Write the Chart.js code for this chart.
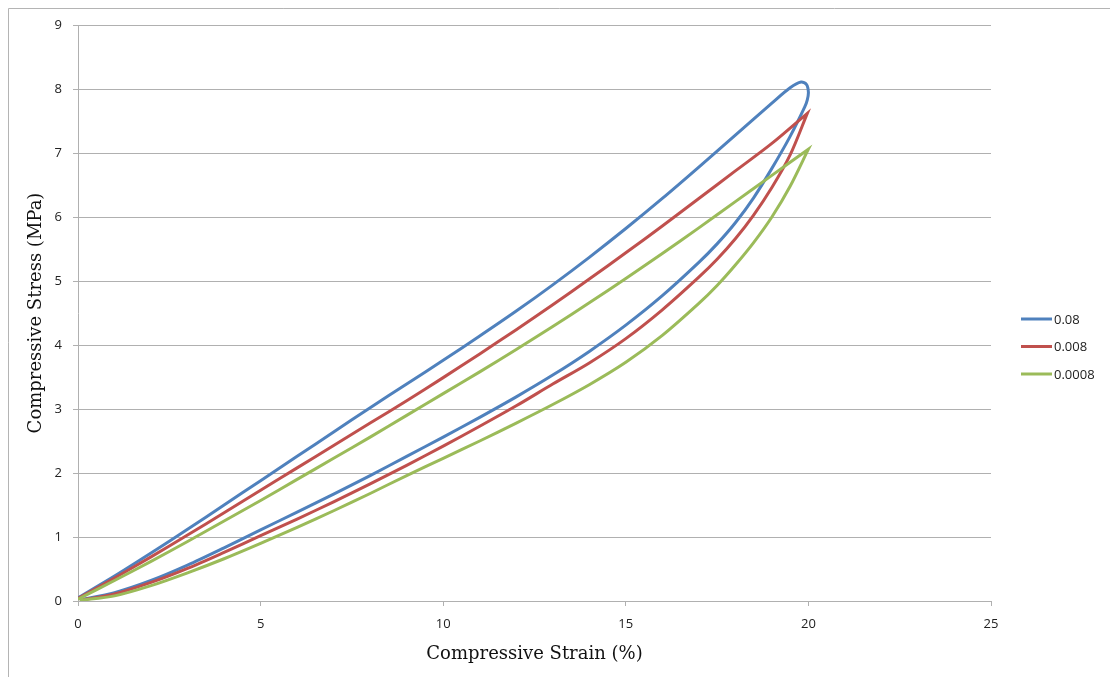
<!DOCTYPE html>
<html>
<head>
<meta charset="utf-8">
<script src="https://cdn.jsdelivr.net/npm/chart.js@4.4.0/dist/chart.umd.min.js"></script>
<style>
  html, body { margin: 0; padding: 0; background: #ffffff; }
  #wrap { position: relative; width: 1110px; height: 677px; }
</style>
</head>
<body>
<div id="wrap"><canvas id="c" width="1110" height="677"></canvas></div>
<script>
// ---- Data ----
const seriesNames = ['0.08', '0.008', '0.0008'];
const seriesColors = ['#4F81BD', '#C0504D', '#9BBB59'];

const xTicks = [0, 5, 10, 15, 20, 25];
const yTicks = [0, 1, 2, 3, 4, 5, 6, 7, 8, 9];

// 0.08 loop: upper branch out to 20 %, then lower branch back to 0
const strain008 = [0, 1, 2, 3, 4, 5, 6, 7, 8, 9, 10, 11, 12, 13, 14, 15, 16, 17, 18, 19, 19.5, 19.8, 19.95, 20.0,
                   19.97, 19.9, 19.5, 19, 18.5, 18, 17.5, 17, 16, 15, 14, 13, 12, 11, 10, 9, 8, 7, 6, 5, 4, 3, 2, 1, 0.05];
const stress008 = [0.05, 0.39, 0.75, 1.12, 1.50, 1.88, 2.26, 2.64, 3.02, 3.39, 3.76, 4.14, 4.53, 4.94, 5.37, 5.82, 6.29, 6.78, 7.28, 7.78, 8.02, 8.11, 8.07, 7.95,
                   7.83, 7.72, 7.26, 6.76, 6.3, 5.91, 5.58, 5.29, 4.77, 4.31, 3.90, 3.53, 3.19, 2.87, 2.56, 2.26, 1.96, 1.67, 1.39, 1.11, 0.83, 0.56, 0.32, 0.13, 0.02];

// 0.008 loop
const strain0008 = [0, 1, 2, 3, 4, 5, 6, 7, 8, 9, 10, 11, 12, 13, 14, 15, 16, 17, 18, 19, 19.97, 19.97,
                    19.5, 19, 18.5, 18, 17.5, 17, 16, 15, 14, 13, 12, 11, 10, 9, 8, 7, 6, 5, 4, 3, 2, 1, 0.05];
const stress0008 = [0.04, 0.36, 0.69, 1.03, 1.38, 1.73, 2.08, 2.43, 2.78, 3.13, 3.49, 3.86, 4.24, 4.63, 5.03, 5.44, 5.86, 6.29, 6.72, 7.15, 7.62, 7.62,
                    6.97, 6.46, 6.03, 5.66, 5.34, 5.06, 4.55, 4.10, 3.72, 3.39, 3.05, 2.73, 2.42, 2.12, 1.83, 1.55, 1.28, 1.02, 0.76, 0.51, 0.29, 0.11, 0.01];

// 0.0008 loop
const strain00008 = [0, 1, 2, 3, 4, 5, 6, 7, 8, 9, 10, 11, 12, 13, 14, 15, 16, 17, 18, 19, 20, 20,
                     19.5, 19, 18.5, 18, 17.5, 17, 16, 15, 14, 13, 12, 11, 10, 9, 8, 7, 6, 5, 4, 3, 2, 1, 0.05];
const stress00008 = [0.03, 0.32, 0.62, 0.93, 1.25, 1.57, 1.90, 2.23, 2.56, 2.90, 3.24, 3.58, 3.93, 4.29, 4.66, 5.04, 5.43, 5.83, 6.24, 6.65, 7.06, 7.06,
                     6.48, 6.0, 5.6, 5.25, 4.93, 4.65, 4.15, 3.73, 3.38, 3.07, 2.78, 2.50, 2.23, 1.96, 1.68, 1.41, 1.15, 0.90, 0.66, 0.44, 0.24, 0.08, 0.01];

const xTitle = 'Compressive Strain (%)';
const yTitle = 'Compressive Stress (MPa)';

// ---- Build datasets ----
function pts(xs, ys) { return xs.map((x, i) => ({ x: x, y: ys[i] })); }
const allX = [strain008, strain0008, strain00008];
const allY = [stress008, stress0008, stress00008];

const datasets = seriesNames.map((name, i) => ({
  label: name,
  data: pts(allX[i], allY[i]),
  borderColor: seriesColors[i],
  backgroundColor: seriesColors[i],
  borderWidth: 3,
  showLine: true,
  fill: false,
  pointRadius: 0,
  pointHoverRadius: 0,
  tension: 0.3,
  order: seriesNames.length - i
}));

const sansFamily = '"Open Sans", "Liberation Sans", sans-serif';
Chart.defaults.font.family = sansFamily;
Chart.defaults.font.size = 13;
const tickFont = { family: sansFamily, size: 13 };
const titleFont = { family: '"DejaVu Serif", "Liberation Serif", serif', size: 18 };

// frame around the chart (top and left edges visible)
const framePlugin = {
  id: 'frame',
  beforeDraw(chart) {
    const ctx = chart.ctx;
    ctx.save();
    ctx.fillStyle = '#ffffff';
    ctx.fillRect(0, 0, chart.width, chart.height);
    ctx.strokeStyle = '#b4b4b4';
    ctx.lineWidth = 1;
    ctx.beginPath();
    ctx.moveTo(8.5, chart.height);
    ctx.lineTo(8.5, 8.5);
    ctx.lineTo(chart.width, 8.5);
    ctx.stroke();
    ctx.restore();
  }
};

// legend drawn at right, like the reference
const legendPlugin = {
  id: 'sideLegend',
  afterDraw(chart) {
    const ctx = chart.ctx;
    ctx.save();
    const x0 = 1021, x1 = 1052, ys = [319, 346.5, 374];
    ctx.font = '13px ' + sansFamily;
    ctx.textBaseline = 'middle';
    ctx.textAlign = 'left';
    chart.data.datasets.forEach((ds, i) => {
      ctx.strokeStyle = ds.borderColor;
      ctx.lineWidth = 3;
      ctx.beginPath();
      ctx.moveTo(x0, ys[i]);
      ctx.lineTo(x1, ys[i]);
      ctx.stroke();
      ctx.fillStyle = '#222222';
      ctx.fillText(ds.label, x1 + 2, ys[i] + 1);
    });
    ctx.restore();
  }
};

new Chart(document.getElementById('c'), {
  type: 'scatter',
  data: { datasets: datasets },
  options: {
    responsive: false,
    animation: false,
    devicePixelRatio: 1,
    layout: { padding: { left: 0, right: 119, top: 25, bottom: 0 } },
    plugins: {
      legend: { display: false },
      tooltip: { enabled: false }
    },
    scales: {
      x: {
        type: 'linear',
        min: 0, max: 25,
        afterBuildTicks(scale) { scale.ticks = xTicks.map(v => ({ value: v })); },
        afterFit(scale) { scale.height = 76; },
        ticks: { font: tickFont, color: '#222222', padding: 10, maxRotation: 0 },
        grid: { display: true, drawOnChartArea: false, drawTicks: true, tickLength: 5, color: '#b0b0b0', lineWidth: 1 },
        border: { display: true, color: '#b0b0b0', width: 1 },
        title: { display: true, text: xTitle, font: titleFont, color: '#111111', padding: { top: 0, bottom: 12 } }
      },
      y: {
        type: 'linear',
        min: 0, max: 9,
        afterBuildTicks(scale) { scale.ticks = yTicks.map(v => ({ value: v })); },
        afterFit(scale) { scale.width = 78; },
        ticks: { font: tickFont, color: '#222222', padding: 11 },
        grid: { display: true, drawOnChartArea: true, drawTicks: true, tickLength: 5, color: '#b0b0b0', lineWidth: 1 },
        border: { display: true, color: '#b0b0b0', width: 1 },
        title: { display: true, text: yTitle, font: titleFont, color: '#111111', padding: { top: 26, bottom: 0 } }
      }
    }
  },
  plugins: [framePlugin, legendPlugin]
});
</script>
</body>
</html>
